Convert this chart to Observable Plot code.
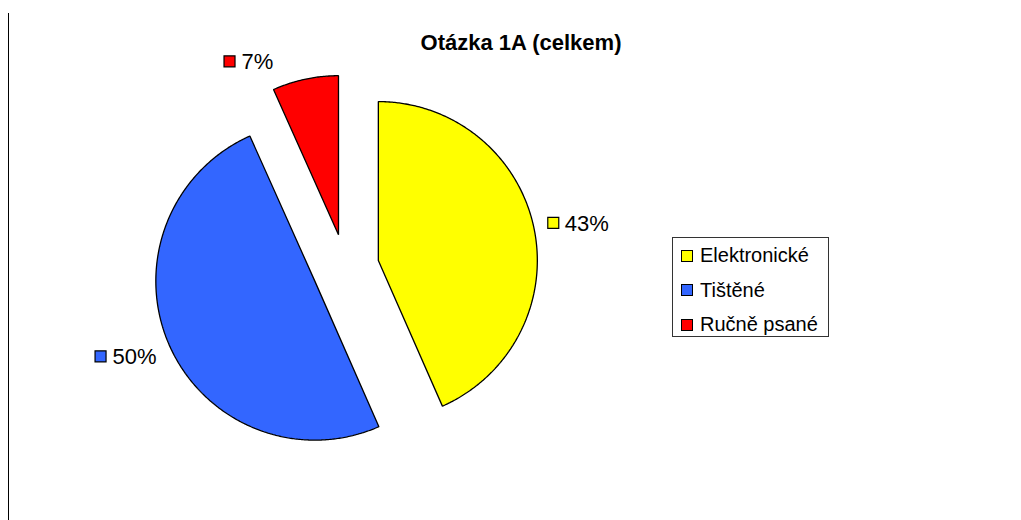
<!DOCTYPE html>
<html><head><meta charset="utf-8">
<script src="https://cdn.jsdelivr.net/npm/d3@7"></script>
<script src="https://cdn.jsdelivr.net/npm/@observablehq/plot@0.6"></script>
<style>
body{margin:0;background:#fff;font-family:"Liberation Sans",Arial,sans-serif;}
#wrap{position:relative;width:1021px;height:520px;overflow:hidden;}
#edge{position:absolute;left:8px;top:13px;width:1px;height:507px;background:#000;}
#legend{position:absolute;left:672px;top:237px;width:157px;height:100px;border:1px solid #333;box-sizing:border-box;font-size:20px;color:#000;}
.row{position:absolute;left:8px;display:flex;align-items:center;height:22px;}
.sw{width:12px;height:12px;border:1px solid #000;box-sizing:border-box;margin-right:7px;}
</style></head><body><div id="wrap"><div id="edge"></div></div>
<script>
const title = "Otázka 1A (celkem)";
const categories = ["Elektronické", "Tištěné", "Ručně psané"];
const values = [43.4, 49.9, 6.7];
const percentLabels = ["43%", "50%", "7%"];
const colors = ["#ffff00", "#3366ff", "#ff0000"];

const W = 1021, H = 520;
const R = 159, cx = 345, cy = 267, explode = 0.211;
const fontLabel = 22;

const arcs = d3.pie().sort(null).value(d => d)(values);
const ctx = document.createElement("canvas").getContext("2d");
ctx.font = `${fontLabel}px "Liberation Sans"`;

const slicePts = [];
const labelTexts = [];
const labelSquares = [];
arcs.forEach((a, i) => {
  const cat = categories[i];
  const mid = (a.startAngle + a.endAngle) / 2;
  const ox = explode * Math.sin(mid), oy = explode * Math.cos(mid);
  slicePts.push({cat, x: ox, y: oy});
  const n = Math.max(2, Math.ceil((a.endAngle - a.startAngle) / (Math.PI / 360)));
  for (let k = 0; k <= n; k++) {
    const t = a.startAngle + (a.endAngle - a.startAngle) * k / n;
    slicePts.push({cat, x: ox + Math.sin(t), y: oy + Math.cos(t)});
  }
  // label anchor along bisector
  const d = 1.30;
  let lx = d * Math.sin(mid), ly = d * Math.cos(mid);
  const w = ctx.measureText(percentLabels[i]).width / R;
  let textX, sqX;
  if (Math.sin(mid) >= 0) {
    ly += 2 / R;
    sqX = lx + 5.5 / R;
    textX = lx + 17 / R;
  } else {
    if (Math.abs(Math.cos(mid)) > 0.9) { lx -= 29 / R; ly += 4 / R; }
    else { ly -= 5 / R; }
    textX = lx - w;
    sqX = textX - 12 / R;
  }
  labelTexts.push({cat, x: textX, y: ly, text: percentLabels[i]});
  labelSquares.push({cat, x: sqX, y: ly});
});

const plot = Plot.plot({
  width: W, height: H,
  margin: 0,
  style: {fontFamily: '"Liberation Sans", Arial, sans-serif', background: "transparent", overflow: "visible"},
  x: {domain: [-cx / R, (W - cx) / R], axis: null},
  y: {domain: [-(H - cy) / R, cy / R], axis: null},
  color: {domain: categories, range: colors},
  marks: [
    Plot.line(slicePts, {x: "x", y: "y", z: "cat", fill: "cat", stroke: "#000", strokeWidth: 1.3, curve: "linear-closed", strokeLinejoin: "miter"}),
    Plot.dot(labelSquares, {x: "x", y: "y", fill: "cat", stroke: "#000", strokeWidth: 1.2, symbol: "square", r: 6.2}),
    Plot.text(labelTexts, {x: "x", y: "y", text: "text", textAnchor: "start", fontSize: fontLabel, fill: "#000", lineAnchor: "middle", dy: 1}),
    Plot.text([title], {frameAnchor: "top", dx: 10, dy: 42, text: d => d, fontSize: 22, fontWeight: "bold", fill: "#000", lineAnchor: "middle"})
  ]
});
plot.style.position = "absolute";
plot.style.left = "0px";
plot.style.top = "0px";
const wrap = document.getElementById("wrap");
wrap.appendChild(plot);

const legend = document.createElement("div");
legend.id = "legend";
const rowTops = [17.5, 52, 86.5];
categories.forEach((c, i) => {
  const row = document.createElement("div");
  row.className = "row";
  row.style.top = (rowTops[i] - 11) + "px";
  const sw = document.createElement("div");
  sw.className = "sw";
  sw.style.background = colors[i];
  const t = document.createElement("span");
  t.textContent = c;
  row.appendChild(sw); row.appendChild(t);
  legend.appendChild(row);
});
wrap.appendChild(legend);
</script>
</body></html>
